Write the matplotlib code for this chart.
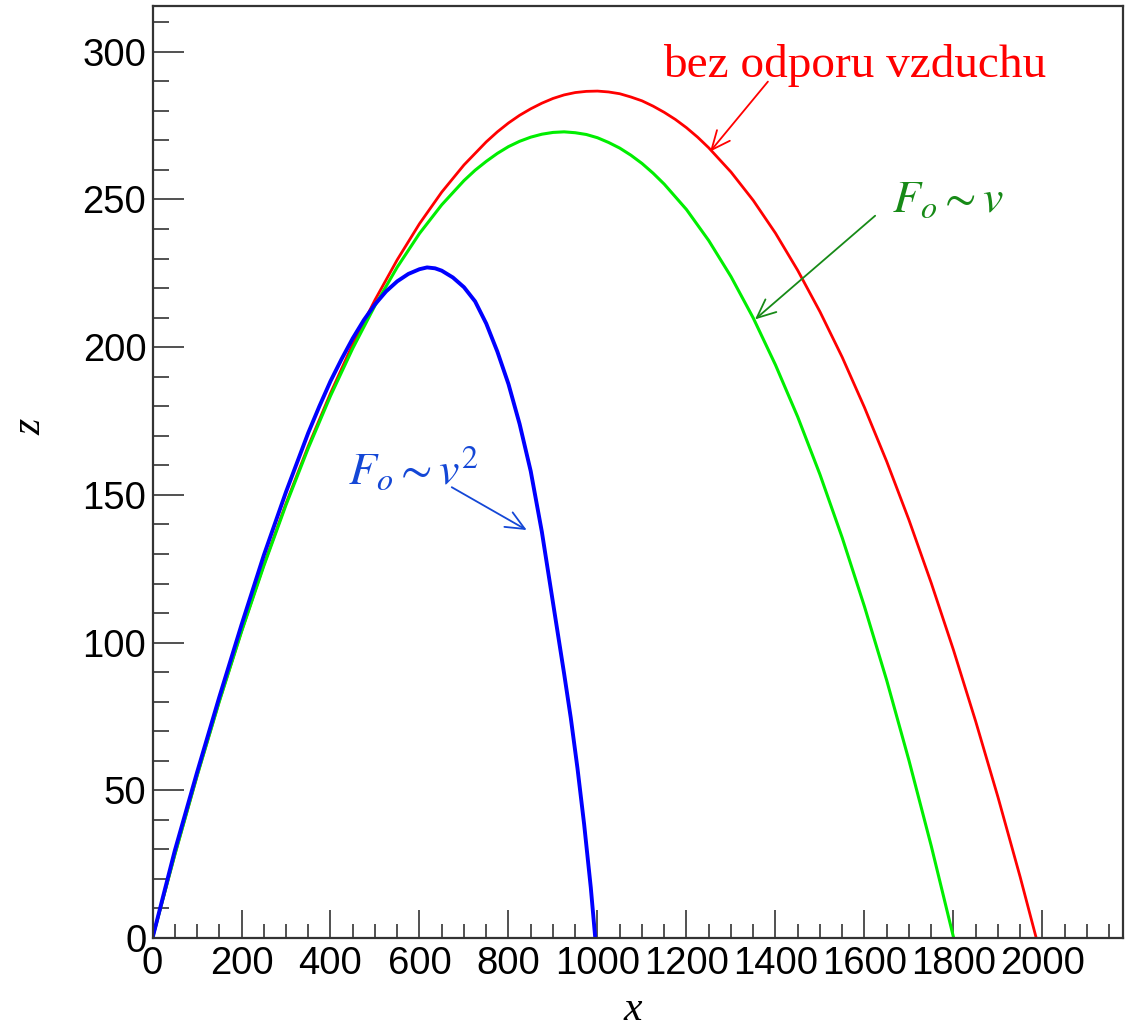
import matplotlib
matplotlib.use('Agg')
import matplotlib.pyplot as plt
from matplotlib.ticker import MultipleLocator

plt.rcParams['mathtext.fontset'] = 'stix'

# bez odporu vzduchu
x_free = [0, 50, 100, 150, 200, 250, 300, 350, 400, 450, 500, 550, 600, 650, 700, 750, 775, 800, 825, 850,
          875, 900, 925, 950, 975, 1000, 1025, 1050, 1075, 1100, 1125, 1150, 1175, 1200, 1225, 1250, 1300,
          1350, 1400, 1450, 1500, 1550, 1600, 1650, 1700, 1750, 1800, 1850, 1900, 1950, 1986]
z_free = [0, 28.1, 54.8, 80.1, 103.8, 126.2, 147.1, 166.5, 184.4, 201.0, 216.0, 229.6, 241.8, 252.5, 261.7,
          269.5, 272.9, 275.9, 278.5, 280.7, 282.6, 284.2, 285.4, 286.2, 286.6, 286.7, 286.4, 285.8, 284.7,
          283.4, 281.6, 279.5, 277.1, 274.3, 271.1, 267.5, 259.3, 249.7, 238.6, 226.0, 212.0, 196.6, 179.6,
          161.3, 141.5, 120.2, 97.5, 73.3, 47.7, 20.6, 0]

# F_o ~ v
x_lin = [0, 50, 100, 150, 200, 250, 300, 350, 400, 450, 500, 550, 600, 650, 700, 725, 750, 775, 800, 825,
         850, 875, 900, 925, 950, 975, 1000, 1025, 1050, 1075, 1100, 1125, 1150, 1200, 1250, 1300, 1350,
         1400, 1450, 1500, 1550, 1600, 1650, 1700, 1750, 1800]
z_lin = [0, 28.1, 54.8, 80.0, 103.7, 125.9, 146.6, 165.8, 183.5, 199.6, 214.1, 227.1, 238.5, 248.2, 256.4,
         259.9, 262.9, 265.6, 267.9, 269.7, 271.1, 272.1, 272.7, 272.9, 272.6, 272.0, 270.9, 269.3, 267.4,
         265.0, 262.2, 258.9, 255.2, 246.6, 236.1, 223.9, 209.9, 194.0, 176.4, 156.9, 135.5, 112.2, 87.2,
         60.1, 31.2, 0.3]

# F_o ~ v^2
x_quad = [0, 50, 100, 150, 200, 250, 300, 350, 375, 400, 425, 450, 475, 500, 525, 550, 575, 600, 617, 635,
          650, 675, 700, 725, 750, 775, 800, 825, 850, 875, 900, 925, 940, 955, 970, 985, 995]
z_quad = [0, 29.5, 56, 81.5, 106, 129.5, 151, 171, 180, 188.5, 196, 203, 209.2, 214.5, 218.9, 222.3,
          224.8, 226.4, 227, 226.7, 225.9, 223.6, 220.3, 215.5, 208, 198.5, 187.5, 174, 158, 137.5, 113.5,
          89.5, 74.5, 57.5, 38.5, 17, 0]

xticks = list(range(0, 2001, 200))
yticks = list(range(0, 301, 50))

fig = plt.figure(figsize=(11.3, 10.29), dpi=100)
ax = fig.add_axes([0.13496, 0.08844, 0.85885, 0.90573])

ax.plot(x_free, z_free, color='#ff0000', lw=2.0)
ax.plot(x_lin, z_lin, color='#00ee00', lw=2.2)
ax.plot(x_quad, z_quad, color='#0000ff', lw=2.8)

ax.set_xlim(0, 2181)
ax.set_ylim(0, 315.5)
ax.set_xticks(xticks)
ax.set_yticks(yticks)
ax.xaxis.set_minor_locator(MultipleLocator(50))
ax.yaxis.set_minor_locator(MultipleLocator(10))

for s in ax.spines.values():
    s.set_color('#333333')
    s.set_linewidth(1.6)

ax.tick_params(which='both', direction='in', top=False, right=False, color='#333333', width=1.2,
               labelsize=27.5)
ax.tick_params(axis='x', which='major', length=20, pad=6)
ax.tick_params(axis='x', which='minor', length=10)
ax.tick_params(axis='y', which='major', length=22, pad=4.5)
ax.tick_params(axis='y', which='minor', length=11.5)
for lab in ax.get_xticklabels() + ax.get_yticklabels():
    lab.set_family('Liberation Sans')

ax.set_xlabel('x', fontsize=30, family='Liberation Serif', style='italic')
ax.xaxis.set_label_coords(0.495, -0.0773)
ax.xaxis.label.set_va('center')
ax.set_ylabel('z', fontsize=30, family='Liberation Serif', style='italic')
ax.yaxis.set_label_coords(-0.126, 0.548)
ax.yaxis.label.set_va('center')

arrow = dict(arrowstyle='->,head_length=0.45,head_width=0.2', lw=1.3, mutation_scale=30,
             shrinkA=0, shrinkB=0)

# popisky
ax.text(1147.5, 291.5, 'bez odporu vzduchu', color='#ff0000', fontsize=34,
        family='Liberation Serif', ha='left', va='baseline')
ax.annotate('', xy=(1253, 266.2), xytext=(1383, 289.9), arrowprops=dict(arrow, color='#ff0000'))

ax.text(1661.5, 245.8, r'$F_o \sim v$', color='#178a17', fontsize=33, ha='left', va='baseline')
ax.annotate('', xy=(1354, 209.4), xytext=(1624, 244.5), arrowprops=dict(arrow, color='#178a17'))

ax.text(439.4, 153.9, r'$F_o \sim v^2$', color='#1447d6', fontsize=33, ha='left', va='baseline')
ax.annotate('', xy=(841, 138.1), xytext=(672.5, 152.6), arrowprops=dict(arrow, color='#1447d6'))

fig.savefig('out.png', dpi=100)
